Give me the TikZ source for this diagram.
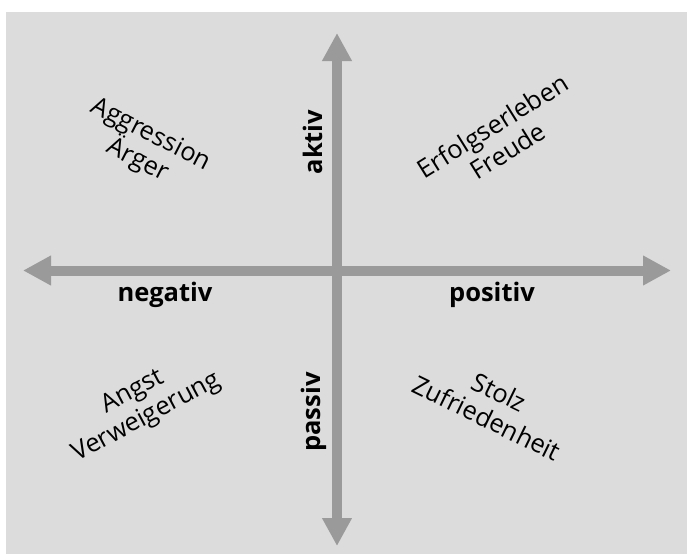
\documentclass[tikz,border=0pt]{standalone}
\usepackage{fontspec}
\setmainfont{Open Sans}
\usetikzlibrary{arrows.meta}

\begin{document}
\begin{tikzpicture}[
    x=1pt, y=-1pt,
    axis/.style={{Triangle[length=28pt, width=28pt]}-{Triangle[length=28pt, width=28pt]}, line width=10pt, draw=axisgray},
    pole/.style={font=\fontsize{25.5}{30}\selectfont\bfseries, inner sep=0pt},
    feeling/.style={font=\fontsize{25.5}{29}\selectfont, align=center, inner sep=0pt}
]
\definecolor{bggray}{HTML}{DCDCDC}
\definecolor{axisgray}{HTML}{9A9A9A}

% canvas
\useasboundingbox (0,0) rectangle (687,554);
\fill[bggray] (6,12) rectangle (687,554);

% axes
\coordinate (west) at (23,270.5);
\coordinate (east) at (671,270.5);
\coordinate (north) at (337,33);
\coordinate (south) at (337,546);
\draw[axis] (west) -- (east);
\draw[axis] (south) -- (north);

% axis labels
\node[pole] (negativ) at (165,295) {negativ};
\node[pole] (positiv) at (492,295) {positiv};
\node[pole, rotate=90] (aktiv) at (313,142) {aktiv};
\node[pole, rotate=90] (passiv) at (314,412) {passiv};

% quadrants
\node[feeling, rotate=-27] (neg-akt) at (144,148) {Aggression\\Ärger};
\node[feeling, rotate=32] (pos-akt) at (500,138) {Erfolgserleben\\Freude};
\node[feeling, rotate=28] (neg-pas) at (140,405) {Angst\\Verweigerung};
\node[feeling, rotate=-26] (pos-pas) at (493,405) {Stolz\\Zufriedenheit};

\end{tikzpicture}
\end{document}
